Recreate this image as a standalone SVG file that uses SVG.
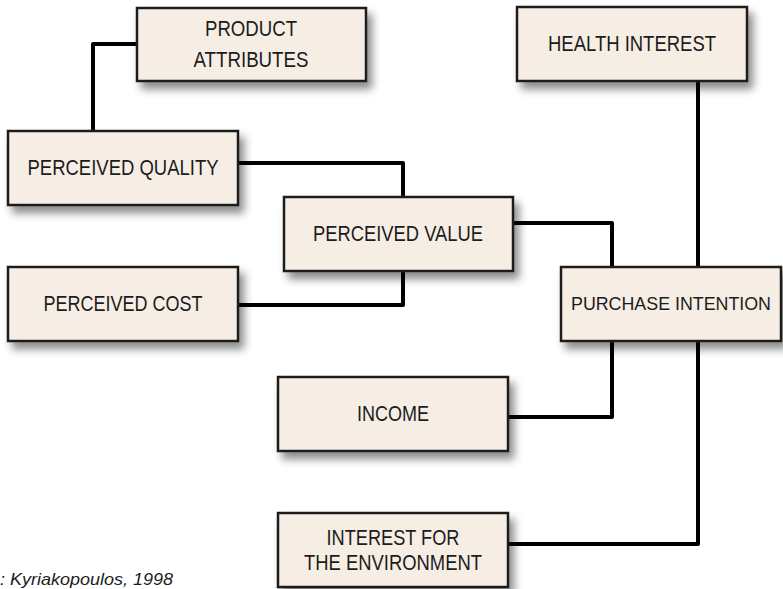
<svg xmlns="http://www.w3.org/2000/svg" width="783" height="589" viewBox="0 0 783 589">
<style>
.box{fill:#f6eee4;stroke:#1c1c1c;stroke-width:2.5;filter:url(#sh)}
.lbl{font-family:"Liberation Sans",Arial,sans-serif;font-size:22px;fill:#1c1c1c;text-anchor:middle}
.cap{font-family:"Liberation Sans",Arial,sans-serif;font-size:17px;font-style:italic;fill:#1c1c1c}
.con{fill:none;stroke:#000;stroke-width:4;stroke-linejoin:round}
</style>
<defs>
<filter id="sh" x="-20%" y="-30%" width="150%" height="180%">
<feDropShadow dx="5" dy="7" stdDeviation="4" flood-color="#000" flood-opacity="0.45"/>
</filter>
</defs>
<rect width="783" height="589" fill="#fff"/>
<g id="connectors">
<polyline class="con" points="93,131 93,44 137,44"/>
<polyline class="con" points="238,163 403,163 403,197"/>
<polyline class="con" points="403,271 403,305 238,305"/>
<polyline class="con" points="513,223 612,223 612,267"/>
<polyline class="con" points="612,341 612,417 508,417"/>
<polyline class="con" points="698,81 698,267"/>
<polyline class="con" points="698,341 698,544 508,544"/>
</g>
<g id="product-attributes">
<rect class="box" x="137" y="8" width="229" height="73"/>
<text class="lbl" x="251" y="36" textLength="92" lengthAdjust="spacingAndGlyphs">PRODUCT</text>
<text class="lbl" x="251" y="67" textLength="115" lengthAdjust="spacingAndGlyphs">ATTRIBUTES</text>
</g>
<g id="health-interest">
<rect class="box" x="517" y="7" width="230" height="74"/>
<text class="lbl" x="632" y="51" textLength="168" lengthAdjust="spacingAndGlyphs">HEALTH INTEREST</text>
</g>
<g id="perceived-quality">
<rect class="box" x="8" y="131" width="230" height="74"/>
<text class="lbl" x="123" y="175" textLength="191" lengthAdjust="spacingAndGlyphs">PERCEIVED QUALITY</text>
</g>
<g id="perceived-value">
<rect class="box" x="284" y="197" width="229" height="74"/>
<text class="lbl" x="398" y="241" textLength="170" lengthAdjust="spacingAndGlyphs">PERCEIVED VALUE</text>
</g>
<g id="perceived-cost">
<rect class="box" x="8" y="267" width="230" height="74"/>
<text class="lbl" x="123" y="311" textLength="159" lengthAdjust="spacingAndGlyphs">PERCEIVED COST</text>
</g>
<g id="purchase-intention">
<rect class="box" x="561" y="267" width="220" height="74"/>
<text class="lbl" x="671" y="310" style="font-size:18px" textLength="200" lengthAdjust="spacingAndGlyphs">PURCHASE INTENTION</text>
</g>
<g id="income">
<rect class="box" x="278" y="377" width="230" height="74"/>
<text class="lbl" x="393" y="421" textLength="72" lengthAdjust="spacingAndGlyphs">INCOME</text>
</g>
<g id="interest-environment">
<rect class="box" x="278" y="513" width="230" height="74"/>
<text class="lbl" x="393" y="545" textLength="133" lengthAdjust="spacingAndGlyphs">INTEREST FOR</text>
<text class="lbl" x="393" y="570" textLength="178" lengthAdjust="spacingAndGlyphs">THE ENVIRONMENT</text>
</g>
<text class="cap" x="0" y="585" textLength="173" lengthAdjust="spacingAndGlyphs">: Kyriakopoulos, 1998</text>
</svg>
